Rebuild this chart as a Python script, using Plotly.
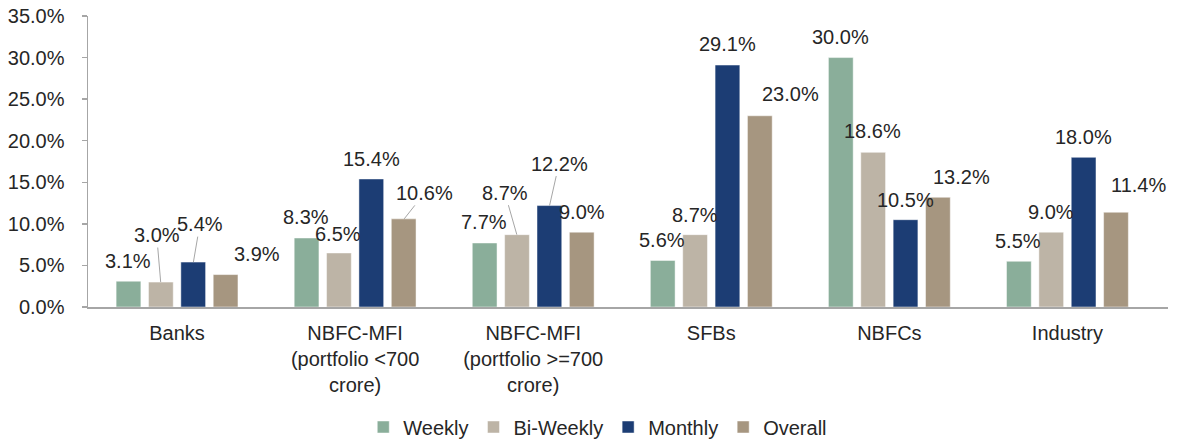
import plotly.graph_objects as go

# ---- data ----
categories = [
    "Banks",
    "NBFC-MFI<br>(portfolio &lt;700<br>crore)",
    "NBFC-MFI<br>(portfolio &gt;=700<br>crore)",
    "SFBs",
    "NBFCs",
    "Industry",
]
series_names = ["Weekly", "Bi-Weekly", "Monthly", "Overall"]
weekly = [3.1, 8.3, 7.7, 5.6, 30.0, 5.5]
biweekly = [3.0, 6.5, 8.7, 8.7, 18.6, 9.0]
monthly = [5.4, 15.4, 12.2, 29.1, 10.5, 18.0]
overall = [3.9, 10.6, 9.0, 23.0, 13.2, 11.4]
y_ticks = [0, 5, 10, 15, 20, 25, 30, 35]

# ---- styling ----
colors = ["#8AAE9A", "#BDB4A6", "#1C3D74", "#A69680"]
FONT = "Liberation Sans, Arial, sans-serif"
TXT = "#262626"
GRID = "#A6A6A6"
W, H = 1180, 442
ML, MR, MT, MB = 88, 12, 16, 135
BARGAP, BARGROUPGAP = 0.273, 0.235

# label placement (dx, dy in px relative to top-centre of bar; leader line flag)
label_pos = [
    [(0, -20.5, False)] * 6,
    [(-4, -47, True), (-1, -19, False), (-12, -42, True), (0, -20, False), (0, -21, False), (0, -20, False)],
    [(6.5, -38, True), (0, -20, False), (9.5, -42, True), (0, -21, False), (0, -20, False), (0, -20, False)],
    [(30.5, -20.5, False), (20.5, -26, True), (0, -20.5, False), (29.7, -21.5, False), (23.4, -20.5, False), (22, -27, False)],
]

all_series = [weekly, biweekly, monthly, overall]

fig = go.Figure()
for name, vals, col in zip(series_names, all_series, colors):
    fig.add_trace(go.Bar(
        x=categories, y=vals, name=name,
        marker=dict(color=col, line=dict(color="rgba(255,255,255,0.6)", width=0.8)),
        hoverinfo="skip",
    ))

cat_px = (W - ML - MR) / len(categories)
slot = cat_px * (1 - BARGAP) / len(all_series)

annotations = []
for si, vals in enumerate(all_series):
    off = slot * (si - (len(all_series) - 1) / 2)
    for ci, v in enumerate(vals):
        dx, dy, leader = label_pos[si][ci]
        txt = f"{v:.1f}%"
        if leader:
            annotations.append(dict(
                x=categories[ci], y=v, xref="x", yref="y", text=txt,
                showarrow=True, arrowhead=0, arrowwidth=1, arrowcolor=GRID,
                ax=dx, ay=dy, standoff=0, xshift=off,
                font=dict(family=FONT, size=20, color=TXT),
            ))
        else:
            annotations.append(dict(
                x=categories[ci], y=v, xref="x", yref="y", text=txt,
                showarrow=False, xshift=off + dx, yshift=-dy,
                xanchor="center", yanchor="middle",
                font=dict(family=FONT, size=20, color=TXT),
            ))

fig.update_layout(
    width=W, height=H,
    margin=dict(l=ML, r=MR, t=MT, b=MB, pad=0, autoexpand=False),
    paper_bgcolor="white", plot_bgcolor="white",
    barmode="group", bargap=BARGAP, bargroupgap=BARGROUPGAP,
    font=dict(family=FONT, size=20, color=TXT),
    showlegend=True,
    legend=dict(
        orientation="h", xref="paper", yref="container",
        x=0.472, y=1 - 427 / H, xanchor="center", yanchor="middle",
        font=dict(family=FONT, size=20, color=TXT),
        traceorder="normal",
    ),
    annotations=annotations,
    xaxis=dict(
        showline=True, linecolor=GRID, linewidth=1.5,
        showgrid=False, ticks="", automargin=False,
        ticklabelstandoff=7,
        tickfont=dict(family=FONT, size=20, color=TXT),
        fixedrange=True,
    ),
    yaxis=dict(
        range=[0, 35], tickvals=y_ticks,
        ticktext=[f"{t:.1f}%" for t in y_ticks],
        showline=True, linecolor=GRID, linewidth=1.5,
        showgrid=False, zeroline=False, automargin=False,
        ticks="outside", ticklen=5, tickcolor=GRID, tickwidth=1.5,
        ticklabelstandoff=13,
        tickfont=dict(family=FONT, size=20, color=TXT),
        fixedrange=True,
    ),
)

# remove the browser's default 8px page margin so the figure fills the window
fig.write_html(
    "out.html",
    config={"displayModeBar": False, "staticPlot": True},
    post_script="document.body.style.margin='0';document.body.style.overflow='hidden';",
)
